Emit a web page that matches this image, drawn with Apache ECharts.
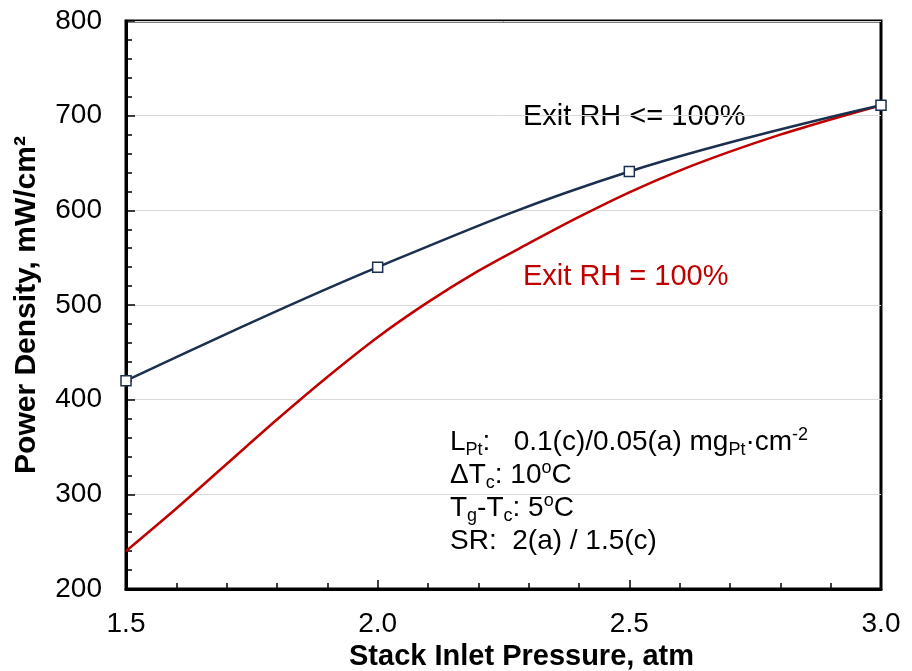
<!DOCTYPE html>
<html>
<head>
<meta charset="utf-8">
<script src="https://cdn.jsdelivr.net/npm/echarts@6/dist/echarts.min.js"></script>
<style>
  html, body { margin: 0; padding: 0; background: #fff; }
  #chart { width: 912px; height: 671px; }
</style>
</head>
<body>
<div id="chart"></div>
<script>
// stack inlet pressure, atm
const pressure = [1.5, 2.0, 2.5, 3.0];
// exit RH <= 100% (measured points)
const pdExitLe100 = [420, 540, 641, 711];
// exit RH = 100%
const pressureFine = [1.5, 1.6, 1.7, 1.8, 1.9, 2.0, 2.1, 2.2, 2.3, 2.4, 2.5, 2.6, 2.7, 2.8, 2.9, 3.0];
const pdExit100 = [240, 285, 332, 379, 424, 466, 503, 536, 565, 593, 619, 642, 662, 680, 696, 711];

const navy = '#1b2f4e';
const red = '#c00000';
const font = 'Liberation Sans, Arial, sans-serif';

let myChart = echarts.init(document.getElementById('chart'));
myChart.setOption({
  animation: false,
  textStyle: { fontFamily: font },
  grid: {
    left: 126, right: 31, top: 21, bottom: 82,
    outerBoundsMode: 'none',
    show: true, borderColor: '#000', borderWidth: 3
  },
  xAxis: {
    type: 'value',
    min: 1.5, max: 3.0, interval: 0.5,
    name: 'Stack Inlet Pressure, atm',
    nameLocation: 'middle',
    nameGap: 53,
    nameTextStyle: { fontSize: 29, fontWeight: 'bold', color: '#000', padding: [0, 0, 0, 36] },
    axisLine: { lineStyle: { color: '#000', width: 3 } },
    axisTick: { inside: true, length: 9, lineStyle: { color: '#000', width: 1.5 } },
    minorTick: { show: true, splitNumber: 5, length: 6, lineStyle: { color: '#000', width: 1.5 } },
    splitLine: { show: false },
    axisLabel: { fontSize: 28, color: '#000', margin: 21, formatter: v => v.toFixed(1) }
  },
  yAxis: {
    type: 'value',
    min: 200, max: 800, interval: 100,
    name: 'Power Density, mW/cm²',
    nameLocation: 'middle',
    nameGap: 84,
    nameTextStyle: { fontSize: 30, fontWeight: 'bold', color: '#000' },
    axisLine: { show: true, lineStyle: { color: '#000', width: 3 } },
    axisTick: { show: true, inside: true, length: 9, lineStyle: { color: '#000', width: 1.5 } },
    minorTick: { show: true, splitNumber: 5, length: 6, lineStyle: { color: '#000', width: 1.5 } },
    splitLine: { show: true, lineStyle: { color: '#d9d9d9', width: 1 } },
    axisLabel: { fontSize: 28, color: '#000', margin: 24 }
  },
  series: [{
    name: 'Exit RH = 100%',
    type: 'line',
    data: pressureFine.map((p, i) => [p, pdExit100[i]]),
    smooth: 0.3,
    showSymbol: false,
    lineStyle: { color: red, width: 2.5 },
    itemStyle: { color: red }
  }, {
    name: 'Exit RH <= 100%',
    type: 'line',
    data: pressure.map((p, i) => [p, pdExitLe100[i]]),
    smooth: 0.4,
    symbol: 'rect',
    symbolSize: 10,
    showAllSymbol: true,
    lineStyle: { color: navy, width: 2.5 },
    itemStyle: { color: '#fff', borderColor: navy, borderWidth: 1.5 }
  }],
  graphic: [{
    type: 'text',
    left: 523, top: 102,
    style: { text: 'Exit RH <= 100%', font: '29px ' + font, fill: '#000' }
  }, {
    type: 'text',
    left: 523, top: 262,
    style: { text: 'Exit RH = 100%', font: '29px ' + font, fill: red }
  }, {
    type: 'text',
    left: 450, top: 426,
    style: {
      text: [
        '{n|L}{sub|Pt}{n|:   0.1(c)/0.05(a) mg}{sub|Pt}{n|·cm}{sup|-2}',
        '{n|ΔT}{sub|c}{n|: 10}{sup|o}{n|C}',
        '{n|T}{sub|g}{n|-T}{sub|c}{n|: 5}{sup|o}{n|C}',
        '{n|SR:  2(a) / 1.5(c)}'
      ].join('\n'),
      fill: '#000',
      rich: {
        n: { fontSize: 28, fontFamily: font, lineHeight: 33, color: '#000' },
        sub: { fontSize: 18, fontFamily: font, lineHeight: 16, verticalAlign: 'bottom', color: '#000' },
        sup: { fontSize: 18, fontFamily: font, lineHeight: 12, verticalAlign: 'top', color: '#000' }
      }
    }
  }]
});

window.addEventListener('resize', function() {
  myChart.resize();
});
</script>
</body>
</html>
